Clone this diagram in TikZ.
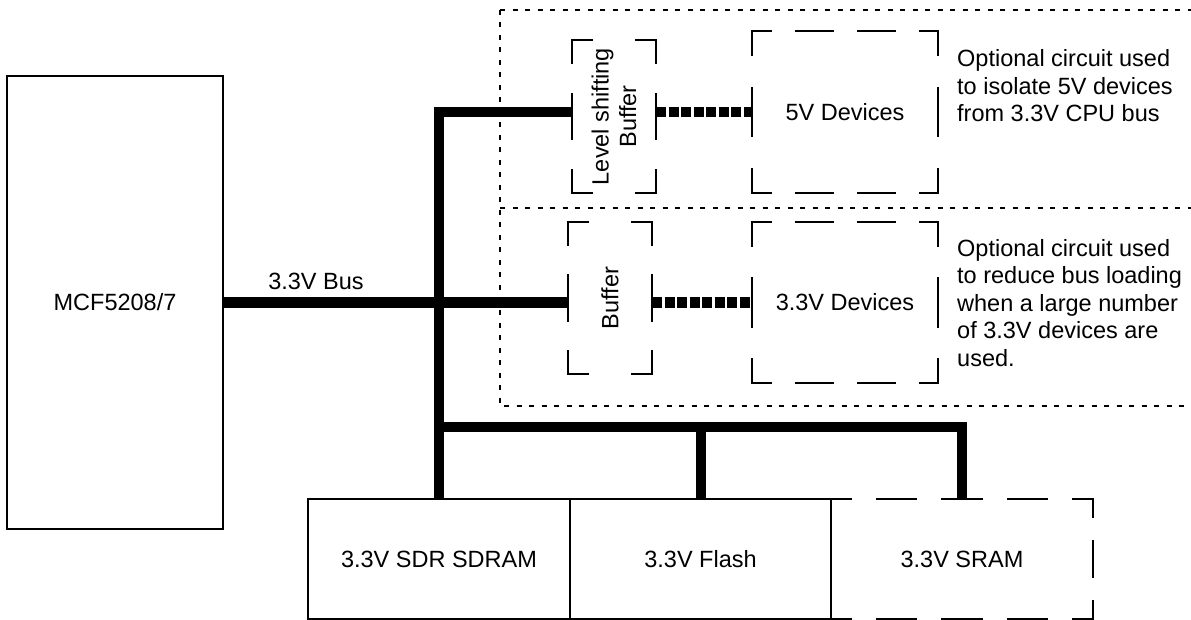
\documentclass[tikz,border=0pt]{standalone}
\usepackage{fontspec}
\setmainfont{Liberation Sans}
\usetikzlibrary{positioning}
\newcommand\cornerframe[4][0.6]{%
  \pgfmathsetmacro\hon{#1*#3}\pgfmathsetmacro\hoff{(1-#1)*#3}\pgfmathsetmacro\hph{#1*#3/2}%
  \pgfmathsetmacro\von{0.6*#4}\pgfmathsetmacro\voff{0.4*#4}\pgfmathsetmacro\vph{0.3*#4}%
  \draw[frame,dash pattern=on \hon pt off \hoff pt,dash phase=\hph pt] (#2.north west) -- (#2.north east) (#2.south west) -- (#2.south east);
  \draw[frame,dash pattern=on \von pt off \voff pt,dash phase=\vph pt] (#2.north west) -- (#2.south west) (#2.north east) -- (#2.south east);
}
\begin{document}
\begin{tikzpicture}[x=1pt,y=-1pt,every node/.style={font=\fontsize{23.5}{27.5}\selectfont},
  box/.style={draw,line width=1.8pt,inner sep=0pt,outer sep=0pt},
  ghost/.style={inner sep=0pt,outer sep=0pt},
  frame/.style={line width=1.8pt,line cap=rect},
  bus/.style={line width=10pt},
  linkbus/.style={line width=10pt,dash pattern=on 10pt off 2.5pt},
  dotline/.style={line width=1.6pt,dash pattern=on 5pt off 7.5pt}]
\useasboundingbox (0,0) rectangle (1191,620);
\node[box,minimum width=216pt,minimum height=453pt] (mcf) at (115,302.5) {MCF5208/7};
\node (buslabel) at (316,281) {3.3V Bus};
\node[box,minimum width=262pt,minimum height=120pt] (sdram) at (439,559) {3.3V SDR SDRAM};
\node[box,minimum width=261pt,minimum height=120pt,right=0pt of sdram] (flash) {3.3V Flash};
\node[ghost,minimum width=262pt,minimum height=120pt,right=0pt of flash] (sram) {3.3V SRAM};
\node[ghost,minimum width=84pt,minimum height=153pt] (lsbuf) at (614,116.5) {};
\node[rotate=90,align=center] (lstext) at (lsbuf) {Level shifting\\Buffer};
\node[ghost,minimum width=186pt,minimum height=162pt] (dev5) at (845,112) {5V Devices};
\node[ghost,minimum width=84pt,minimum height=152pt] (buf) at (610,298) {};
\node[rotate=90] (buftext) at (buf) {Buffer};
\node[ghost,minimum width=186pt,minimum height=161pt] (dev33) at (845,302.5) {3.3V Devices};
\node[anchor=west,align=left,inner sep=0pt] (note5) at (957,86) {Optional circuit used\\to isolate 5V devices\\from 3.3V CPU bus};
\node[anchor=west,align=left,inner sep=0pt] (note33) at (957,303) {Optional circuit used\\to reduce bus loading\\when a large number\\of 3.3V devices are\\used.};
\draw[dotline] (500,10) -- (1195,10) (500,10) -- (500,406) -- (1195,406);
\draw[dotline] (500,208) -- (1195,208);
\cornerframe[0.48]{lsbuf}{84}{76.5}
\cornerframe{dev5}{62}{81}
\cornerframe[0.48]{buf}{84}{76}
\cornerframe{dev33}{62}{80.5}
\draw[frame,dash pattern=on 39.3pt off 26.2pt,dash phase=19.65pt] (sram.north west) -- (sram.north east) (sram.south west) -- (sram.south east);
\draw[frame,dash pattern=on 36pt off 24pt,dash phase=18pt] (sram.north east) -- (sram.south east);
\draw[bus] (sdram.north) -- (sdram.north |- dev5.west) -- (lsbuf.west |- dev5.west);
\draw[bus] (mcf.east) -- (mcf.east -| buf.west);
\draw[linkbus] (lsbuf.east |- dev5.west) -- (dev5.west);
\draw[linkbus] (buf.east |- dev33.west) -- (dev33.west);
\coordinate (tap) at (sdram.north |- 0,427);
\draw[bus] (tap) -- (tap -| sram.north) -- (sram.north);
\draw[bus] (tap -| flash.north) -- (flash.north);
\end{tikzpicture}
\end{document}
